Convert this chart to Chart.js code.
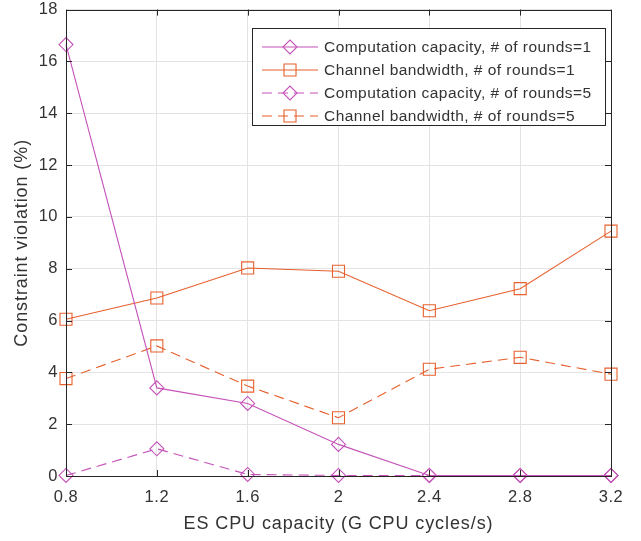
<!DOCTYPE html>
<html>
<head>
<meta charset="utf-8">
<script src="https://cdn.jsdelivr.net/npm/chart.js@4/dist/chart.umd.min.js"></script>
<style>
html,body{margin:0;padding:0;background:#fff;}
#wrap{width:641px;height:541px;}
</style>
</head>
<body>
<div id="wrap"><canvas id="c" width="641" height="541"></canvas></div>
<script>
const categories = ['0.8','1.2','1.6','2','2.4','2.8','3.2'];
const compRounds1 = [16.65, 3.4, 2.8, 1.22, 0.02, 0.02, 0.02];
const bandRounds1 = [6.05, 6.87, 8.03, 7.9, 6.38, 7.23, 9.45];
const compRounds5 = [0.02, 1.05, 0.06, 0.02, 0.02, 0.02, 0.02];
const bandRounds5 = [3.76, 5.02, 3.47, 2.25, 4.12, 4.58, 3.93];
const yTicks = [0,2,4,6,8,10,12,14,16,18];
const seriesLabels = [
  'Computation capacity, # of rounds=1',
  'Channel bandwidth, # of rounds=1',
  'Computation capacity, # of rounds=5',
  'Channel bandwidth, # of rounds=5'
];
const xTitle = 'ES CPU capacity (G CPU cycles/s)';
const yTitle = 'Constraint violation (%)';

const MAG = '#c552b9';
const ORG = '#e6602d';
const FONT = "'Liberation Sans', Arial, Helvetica, sans-serif";
const AX = '#262626';
const TXT = '#333333';

function ds(label, data, color, style, radius, dash){
  return {
    label, data,
    borderColor: color,
    backgroundColor: 'rgba(0,0,0,0)',
    borderWidth: 1.1,
    borderDash: dash,
    pointStyle: style,
    pointRadius: radius,
    pointHoverRadius: radius,
    pointBorderColor: color,
    pointBackgroundColor: 'rgba(0,0,0,0)',
    pointBorderWidth: 1.1,
    tension: 0,
    clip: false
  };
}

const boxPlugin = {
  id: 'boxPlugin',
  beforeDraw(chart){
    chart.ctx.letterSpacing = '0.5px';
  },
  afterDraw(chart){
    const {ctx, chartArea:a, scales} = chart;
    ctx.save();
    ctx.strokeStyle = AX;
    ctx.lineWidth = 1;
    ctx.strokeRect(Math.round(a.left)+0.5, Math.round(a.top)+0.5, Math.round(a.right-a.left), Math.round(a.bottom-a.top));
    const tl = 6;
    ctx.beginPath();
    scales.x.ticks.forEach((t,i)=>{
      const x = Math.round(scales.x.getPixelForTick(i))+0.5;
      ctx.moveTo(x, a.bottom); ctx.lineTo(x, a.bottom - tl);
      ctx.moveTo(x, a.top); ctx.lineTo(x, a.top + tl);
    });
    scales.y.ticks.forEach((t,i)=>{
      const y = Math.round(scales.y.getPixelForTick(i))+0.5;
      ctx.moveTo(a.left, y); ctx.lineTo(a.left + tl, y);
      ctx.moveTo(a.right, y); ctx.lineTo(a.right - tl, y);
    });
    ctx.stroke();

    // axis titles
    ctx.fillStyle = TXT;
    ctx.font = '18px ' + FONT;
    ctx.letterSpacing = '0.9px';
    ctx.textAlign = 'center';
    ctx.textBaseline = 'middle';
    ctx.fillText(xTitle, (a.left + a.right)/2, 524);
    ctx.save();
    ctx.translate(22, (a.top + a.bottom)/2);
    ctx.rotate(-Math.PI/2);
    ctx.fillText(yTitle, 0, 0);
    ctx.restore();

    // legend
    const lx = 252.5, ly = 28.5, lw = 353, lh = 97;
    ctx.fillStyle = '#fff';
    ctx.fillRect(lx, ly, lw, lh);
    ctx.strokeStyle = AX;
    ctx.strokeRect(lx, ly, lw, lh);
    ctx.font = '15.5px ' + FONT;
    ctx.letterSpacing = '0.45px';
    ctx.textAlign = 'left';
    ctx.textBaseline = 'middle';
    chart.data.datasets.forEach((d, i)=>{
      const y = 47 + i*23;
      ctx.save();
      ctx.strokeStyle = d.borderColor;
      ctx.lineWidth = d.borderWidth;
      ctx.setLineDash(d.borderDash || []);
      ctx.beginPath();
      ctx.moveTo(262, y); ctx.lineTo(318, y);
      ctx.stroke();
      ctx.setLineDash([]);
      ctx.fillStyle = 'rgba(0,0,0,0)';
      Chart.helpers.drawPoint(ctx, {pointStyle: d.pointStyle, radius: d.pointRadius, borderWidth: d.pointBorderWidth}, 290, y);
      ctx.restore();
      ctx.fillStyle = TXT;
      ctx.fillText(d.label, 324, y + 1);
    });
    ctx.restore();
  }
};

new Chart(document.getElementById('c'), {
  type: 'line',
  data: {
    labels: categories,
    datasets: [
      ds(seriesLabels[0], compRounds1, MAG, 'rectRot', 7, []),
      ds(seriesLabels[1], bandRounds1, ORG, 'rect', 8.5, []),
      ds(seriesLabels[2], compRounds5, MAG, 'rectRot', 7, [10,6]),
      ds(seriesLabels[3], bandRounds5, ORG, 'rect', 8.5, [10,6])
    ]
  },
  options: {
    responsive: false,
    animation: false,
    events: [],
    layout: { padding: { left: 0, right: 30, top: 8, bottom: 0 } },
    plugins: { legend: { display: false }, tooltip: { enabled: false } },
    scales: {
      x: {
        type: 'category',
        offset: false,
        grid: { color: '#e3e3e3', drawTicks: false, lineWidth: 1 },
        border: { display: false },
        ticks: { color: TXT, font: { family: FONT, size: 16.5 }, padding: 12, maxRotation: 0, autoSkip: false },
        afterFit: s => { s.height = 65; s.paddingLeft = 0; s.paddingRight = 0; }
      },
      y: {
        min: 0, max: 18,
        afterBuildTicks: s => { s.ticks = yTicks.map(v => ({ value: v })); },
        grid: { color: '#e3e3e3', drawTicks: false, lineWidth: 1 },
        border: { display: false },
        ticks: { color: TXT, font: { family: FONT, size: 16.5 }, padding: 8 },
        afterFit: s => { s.width = 66; s.paddingTop = 0; s.paddingBottom = 0; }
      }
    }
  },
  plugins: [boxPlugin]
});
</script>
</body>
</html>
